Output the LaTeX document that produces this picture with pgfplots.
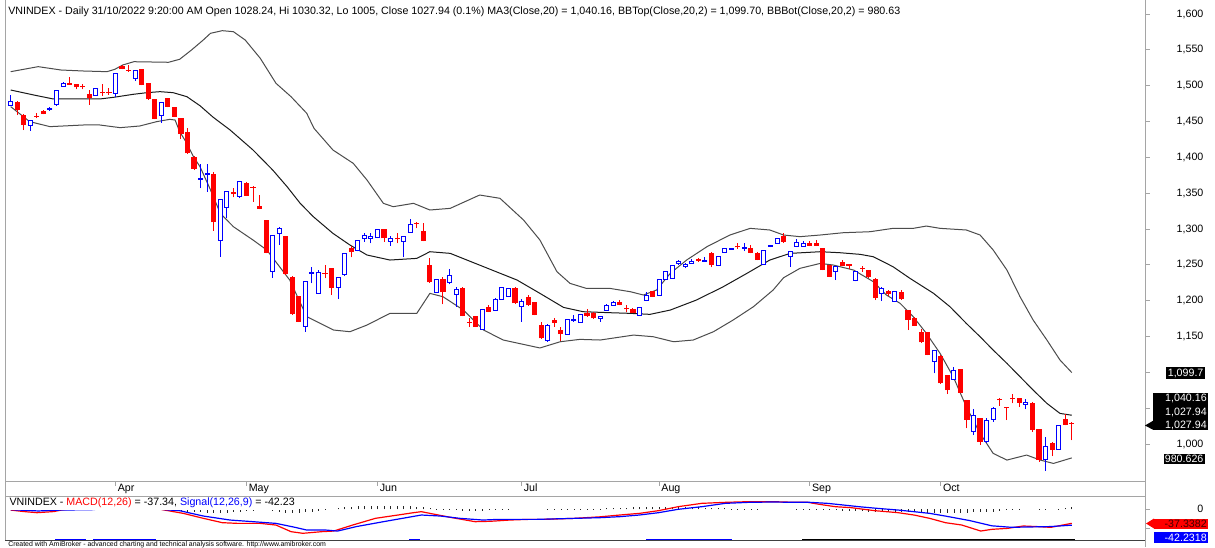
\documentclass[border=0pt]{standalone}
\usepackage{pgfplots}
\pgfplotsset{compat=1.18}
\usepackage{pgfplotstable}
\usepackage{fontspec}
\setmainfont{Liberation Sans}
\definecolor{framegray}{RGB}{165,165,165}
\definecolor{abred}{RGB}{255,0,0}
\definecolor{abblue}{RGB}{0,0,255}

\pgfplotstableread{
i o h l c
1 1477.7 1478.5 1459.0 1466.0
2 1459.0 1460.0 1438.1 1445.1
4 1458.1 1461.4 1454.4 1456.7
5 1465.1 1466.0 1460.0 1460.5
9 1504.2 1511.6 1501.0 1501.4
10 1502.3 1502.8 1494.9 1497.7
11 1499.5 1501.8 1494.9 1497.7
12 1488.4 1493.9 1473.0 1482.3
14 1491.6 1501.8 1485.6 1489.3
15 1491.6 1496.3 1487.0 1489.3
17 1527.9 1528.8 1522.7 1523.2
18 1521.8 1528.8 1519.5 1520.5
20 1523.2 1523.7 1500.5 1500.9
21 1503.2 1503.7 1480.5 1480.9
22 1481.4 1481.9 1453.0 1453.5
24 1482.3 1482.8 1469.8 1470.7
25 1469.8 1470.3 1456.2 1456.7
26 1454.4 1454.9 1425.1 1432.5
27 1435.8 1440.5 1405.1 1405.6
28 1400.9 1401.4 1382.3 1383.7
31 1376.7 1380.0 1297.7 1309.3
34 1351.6 1356.7 1344.2 1348.8
36 1364.6 1365.1 1346.0 1346.5
37 1359.1 1359.6 1338.1 1357.7
38 1332.5 1347.4 1327.4 1327.9
39 1312.5 1313.0 1266.0 1267.0
42 1290.2 1290.7 1236.0 1237.2
43 1233.5 1234.0 1180.4 1180.9
44 1206.5 1207.0 1170.2 1170.7
48 1239.0 1249.7 1231.2 1237.6
49 1245.1 1245.6 1207.9 1218.1
52 1273.9 1276.3 1260.4 1267.9
57 1299.5 1300.0 1282.3 1287.0
59 1287.0 1293.9 1280.0 1285.6
62 1308.8 1310.2 1300.9 1307.0
63 1297.2 1307.9 1282.7 1283.2
64 1249.7 1259.1 1225.1 1225.6
66 1230.2 1233.4 1194.8 1211.6
69 1217.1 1219.5 1178.0 1178.5
70 1170.6 1175.3 1163.7 1169.0
71 1178.5 1179.0 1163.2 1163.7
73 1190.6 1193.9 1184.1 1184.6
77 1218.0 1218.5 1195.7 1196.2
79 1205.5 1207.9 1193.0 1193.4
80 1197.6 1198.1 1179.5 1180.0
81 1166.0 1170.6 1146.9 1147.4
83 1173.0 1176.2 1163.7 1169.2
84 1159.0 1163.7 1143.7 1153.4
88 1182.3 1187.8 1177.6 1178.5
89 1183.2 1183.7 1174.8 1175.3
93 1198.1 1200.9 1193.4 1193.9
94 1190.2 1193.4 1183.7 1187.8
95 1187.8 1190.0 1182.7 1183.2
98 1213.4 1213.9 1205.0 1205.5
105 1257.6 1259.9 1254.4 1255.7
107 1266.9 1267.4 1246.4 1249.7
111 1276.2 1280.0 1272.0 1274.4
113 1273.0 1277.6 1266.0 1266.9
114 1266.9 1267.4 1256.2 1256.7
118 1290.2 1293.9 1280.9 1282.3
122 1279.9 1283.2 1275.7 1276.2
123 1279.9 1284.6 1276.2 1276.7
124 1273.0 1273.5 1242.2 1242.7
125 1249.7 1250.2 1232.9 1233.4
127 1254.4 1256.7 1248.3 1248.8
128 1250.6 1251.1 1243.7 1248.8
130 1246.0 1248.8 1240.4 1244.1
131 1242.7 1243.2 1232.0 1232.5
132 1229.7 1231.1 1200.9 1203.2
134 1213.4 1214.8 1206.5 1209.2
136 1212.5 1214.8 1200.9 1201.8
137 1186.9 1187.4 1159.0 1173.0
138 1176.2 1177.6 1164.6 1165.1
139 1156.7 1160.0 1141.3 1141.8
140 1155.8 1156.3 1123.6 1124.1
142 1123.2 1123.7 1084.1 1084.6
143 1096.2 1096.7 1069.7 1075.3
145 1104.6 1105.1 1071.1 1071.6
146 1061.4 1061.9 1021.8 1033.4
148 1035.8 1036.3 998.6 1003.2
151 1062.3 1064.6 1053.4 1060.9
152 1051.1 1051.6 1033.4 1049.7
153 1063.7 1069.3 1056.7 1062.3
154 1063.7 1064.2 1052.0 1057.6
156 1057.6 1058.1 1017.0 1019.5
157 1020.9 1021.4 975.3 977.6
159 1000.9 1002.3 983.2 991.6
161 1034.8 1041.8 1026.0 1026.5
162 1028.24 1030.32 1005.0 1027.94
}\redcandles

\pgfplotstableread{
i o h l c
0 1472.1 1487.0 1471.5 1477.7
3 1443.7 1451.8 1437.2 1451.1
6 1467.0 1470.7 1465.1 1468.4
7 1473.0 1494.5 1472.1 1493.9
8 1499.5 1505.6 1499.0 1503.2
13 1486.0 1496.8 1485.6 1496.3
16 1488.4 1516.8 1483.7 1516.3
19 1509.3 1522.3 1507.0 1521.8
23 1457.7 1476.8 1448.4 1476.3
29 1369.3 1390.2 1356.7 1370.7
30 1376.3 1390.2 1352.1 1377.7
32 1284.6 1341.0 1261.4 1340.5
33 1330.2 1353.0 1314.9 1352.1
35 1345.1 1367.4 1342.8 1366.0
40 1240.4 1292.1 1232.1 1291.6
41 1293.9 1303.2 1277.7 1300.0
45 1163.7 1227.0 1156.7 1226.5
46 1238.1 1247.4 1224.2 1239.5
47 1210.2 1242.8 1209.7 1239.5
50 1218.1 1233.5 1202.3 1232.1
51 1236.7 1267.0 1234.4 1266.0
53 1269.3 1285.1 1268.8 1284.6
54 1287.0 1293.9 1282.3 1291.6
55 1287.0 1294.9 1280.0 1290.2
56 1287.9 1299.5 1287.4 1298.6
58 1283.2 1290.2 1276.3 1287.0
60 1283.2 1290.2 1260.4 1289.3
61 1295.3 1313.5 1294.8 1306.5
65 1211.6 1230.7 1211.1 1230.2
67 1225.5 1243.7 1222.7 1234.8
68 1208.8 1218.5 1191.6 1215.7
72 1160.4 1188.3 1159.0 1187.8
74 1186.9 1203.2 1186.4 1201.8
75 1201.8 1219.5 1201.3 1218.0
76 1205.5 1217.6 1205.0 1217.1
78 1191.6 1201.8 1170.6 1198.5
82 1145.1 1167.4 1142.7 1166.0
85 1153.0 1174.4 1152.5 1173.9
86 1172.9 1180.0 1170.6 1174.4
87 1169.7 1181.8 1169.2 1181.3
90 1175.3 1178.5 1170.6 1177.6
91 1186.9 1195.3 1186.4 1193.9
92 1193.4 1199.5 1192.9 1198.1
96 1179.0 1191.1 1178.5 1190.6
97 1199.9 1211.6 1199.4 1207.9
99 1207.9 1230.2 1207.4 1229.7
100 1229.7 1240.9 1229.2 1240.4
101 1231.1 1249.3 1230.6 1248.8
102 1252.0 1256.7 1249.7 1254.4
103 1248.3 1252.0 1245.1 1251.1
104 1252.0 1258.0 1251.5 1255.3
106 1254.8 1260.4 1254.4 1256.2
108 1248.8 1261.8 1248.3 1261.3
109 1267.4 1273.5 1266.9 1273.0
110 1272.0 1273.9 1271.5 1273.4
112 1272.5 1280.9 1269.2 1273.9
115 1251.1 1270.2 1250.6 1269.7
116 1275.3 1276.7 1274.8 1276.7
117 1279.9 1287.4 1279.4 1286.9
119 1262.3 1269.2 1247.4 1268.3
120 1275.3 1285.5 1274.8 1280.9
121 1276.2 1283.2 1275.7 1279.9
126 1240.4 1248.3 1228.8 1247.4
129 1227.9 1240.9 1227.0 1240.4
133 1210.2 1218.5 1200.0 1217.1
135 1198.5 1213.0 1198.0 1212.5
141 1114.8 1131.6 1098.5 1131.1
144 1090.2 1107.9 1089.7 1103.2
147 1017.2 1048.3 1012.5 1040.4
149 1003.2 1035.8 1001.8 1033.4
150 1034.4 1052.0 1031.1 1049.7
155 1055.3 1062.3 1048.3 1057.6
158 978.6 1009.3 962.7 996.2
160 992.5 1027.0 992.0 1026.5
}\bluecandles

\begin{document}
\fontsize{8}{9.6}\selectfont
\begin{tikzpicture}
\useasboundingbox (0,0) rectangle (911.25pt,410.25pt);
\fill[white] (0,0) rectangle (911.25pt,410.25pt);

\begin{axis}[
  at={(3.75pt,49.5pt)}, anchor=south west,
  width=855pt, height=360.75pt, scale only axis,
  xmin=-0.87, xmax=173.18, ymin=948.4, ymax=1619.5,
  axis line style={draw=none},
  clip=false,
  ytick={1000,1050,...,1600},
  yticklabels={{1,000},{},{},{1,150},{1,200},{1,250},{1,300},{1,350},{1,400},{1,450},{1,500},{1,550},{1,600}},
  ytick pos=upper, yticklabel pos=upper,
  xtick={16,36,56,78,99,122,142},
  xticklabels={Apr,May,Jun,Jul,Aug,Sep,Oct},
  xtick pos=lower, xticklabel pos=lower,
  tick align=outside,
  major tick length=3.5pt,
  tick style={framegray, line width=0.6pt},
  every tick label/.append style={font=\fontsize{8}{9.6}\selectfont},
  yticklabel style={anchor=east, inner sep=0pt, xshift=40.5pt},
  xticklabel style={anchor=base west, inner sep=0pt, xshift=1.5pt, yshift=-4.5pt},
]
% Bollinger bands
\addplot[black!70, line width=0.75pt] coordinates {(0,1519.5) (4.2,1526.5) (7.7,1521.8) (11.2,1520.4) (14.7,1519.5) (15.9,1522.8) (17.1,1528.8) (18.8,1533.4) (24.1,1532.6) (25.8,1536.8) (27.6,1549.7) (29.4,1563.7) (30.5,1573) (32.3,1576.7) (34,1575.3) (35.8,1563.7) (38.1,1538.2) (40.5,1503.3) (42.8,1484.6) (45.2,1461.4) (46.3,1440.5) (49.2,1410.2) (52.3,1391.6) (54.4,1368.3) (56.9,1335.8) (58.4,1331.1) (61.5,1335.8) (64,1326.5) (67.1,1328.8) (71.6,1347.4) (74.7,1342.8) (78.3,1312.5) (80.8,1284.6) (83.4,1240.4) (85.4,1224.1) (87.9,1217.1) (91.5,1217.1) (94.6,1212.5) (96.6,1207.9) (98.6,1214.8) (100.7,1238.1) (103.2,1256.7) (106.3,1275.3) (109.8,1291.6) (112.9,1300.9) (115.9,1298.6) (118,1291.6) (120.5,1289.3) (123.6,1291.6) (127.1,1294.8) (131.2,1296.2) (134.7,1300.9) (137.8,1300.9) (139.8,1304.1) (141.9,1300.9) (145.9,1298.6) (148,1291.6) (150,1270.7) (152.1,1242.7) (154.1,1205.5) (156.1,1173) (158.2,1145.1) (160.2,1117.2) (162,1099.7)};
\addplot[black!90, line width=0.75pt] coordinates {(0,1493.9) (3.5,1487) (6.5,1481.4) (11.1,1481.4) (13.6,1481.4) (15.7,1483.7) (18.7,1487.9) (20.8,1490.2) (22.8,1491.6) (24.8,1490.2) (26.9,1484.6) (28.9,1472) (30.9,1456) (33.5,1438.1) (37,1410.2) (40,1382.3) (42.2,1359) (44.2,1335.8) (46.2,1317.2) (49.2,1293.9) (51.8,1277.6) (54.4,1263.7) (57.9,1256.7) (62,1259) (64,1268.3) (67.1,1266) (72.2,1247.4) (77.3,1228.8) (80.8,1210.2) (84.4,1190.6) (87.4,1184.6) (91.5,1183.2) (94.6,1182.3) (97.6,1180.9) (100.7,1186.9) (104.7,1200.9) (108.8,1219.5) (112.4,1238.1) (115.9,1256.7) (119,1266) (123.6,1268.3) (126.6,1266.9) (129.7,1264.6) (131.7,1261.3) (134.7,1247.4) (137.3,1231.1) (140.9,1210.2) (143.4,1191.6) (145.9,1168.3) (148,1149.7) (150,1131.1) (152.1,1112.5) (154.1,1093.9) (156.1,1075.3) (158.2,1056.7) (160.2,1042.7) (162,1040.16)};
\addplot[black!70, line width=0.75pt] coordinates {(0,1470.7) (2.9,1449.8) (6,1442.8) (11.1,1445.1) (13.6,1445.1) (16.7,1441.4) (19.7,1443.7) (22.3,1449.8) (24.3,1453) (25.1,1452) (25.8,1435.8) (26.9,1419.5) (27.9,1400.9) (28.9,1387) (30.4,1356.7) (32,1321.9) (34,1303.2) (37,1284.6) (39.1,1270.7) (42.6,1228.8) (45.2,1177.7) (49.3,1159) (51.8,1156.7) (54.4,1166) (57.9,1182.3) (62,1182.3) (64,1210.2) (66,1205.5) (69.1,1187) (72.2,1159) (75.2,1145.1) (80.8,1134) (83.9,1142.7) (86.9,1146) (90,1145.1) (95.1,1152) (98.1,1149.7) (101.2,1142.7) (104.2,1145.1) (107.3,1156.7) (110.3,1173) (113.4,1191.6) (116.4,1214.8) (118,1232) (120.5,1245.1) (123.6,1252) (125.6,1249.7) (128.7,1242.7) (131.7,1226.5) (133.7,1207.9) (135.8,1196.2) (137.8,1177.6) (139.8,1154.4) (141.9,1126.4) (143.9,1093.9) (145.9,1052) (148,1014.8) (150,986.9) (152.1,977.6) (155.1,984.6) (157.2,977.6) (159.2,972.9) (162,980.63)};

% red candles: wicks and filled bodies
\addplot[draw=none, mark=none, error bars/.cd, y dir=plus, y explicit, error mark=none,
  error bar style={draw=abred, line width=0.75pt}]
  table[x=i, y=l, y error plus expr=\thisrow{h}-\thisrow{l}] {\redcandles};
\addplot[draw=none, mark=none, error bars/.cd, y dir=plus, y explicit, error mark=none,
  error bar style={draw=abred, line width=3.9pt}]
  table[x=i, y=c, y error plus expr={max(\thisrow{o}-\thisrow{c},1.4)}] {\redcandles};

% blue candles: wicks, white fill, outline
\addplot[draw=none, mark=none, error bars/.cd, y dir=plus, y explicit, error mark=none,
  error bar style={draw=abblue, line width=0.75pt}]
  table[x=i, y=l, y error plus expr=\thisrow{h}-\thisrow{l}] {\bluecandles};
\addplot[draw=none, mark=none, error bars/.cd, y dir=plus, y explicit, error mark=none,
  error bar style={draw=white, line width=3pt}]
  table[x=i, y=o, y error plus expr={max(\thisrow{c}-\thisrow{o},1.4)}] {\bluecandles};
\addplot[draw=none, mark=none, xshift=-1.5pt, error bars/.cd, y dir=plus, y explicit, error mark=none,
  error bar style={draw=abblue, line width=0.75pt}]
  table[x=i, y=o, y error plus expr={max(\thisrow{c}-\thisrow{o},1.4)}] {\bluecandles};
\addplot[draw=none, mark=none, xshift=1.5pt, error bars/.cd, y dir=plus, y explicit, error mark=none,
  error bar style={draw=abblue, line width=0.75pt}]
  table[x=i, y=o, y error plus expr={max(\thisrow{c}-\thisrow{o},1.4)}] {\bluecandles};
\addplot[only marks, mark=-, mark size=1.875pt, mark options={draw=abblue, line width=0.75pt}]
  table[x=i, y=o] {\bluecandles};
\addplot[only marks, mark=-, mark size=1.875pt, mark options={draw=abblue, line width=0.75pt}]
  table[x=i, y expr={max(\thisrow{c},\thisrow{o}+1.4)}] {\bluecandles};
\end{axis}

\begin{axis}[
  at={(3.75pt,4.5pt)}, anchor=south west,
  width=855pt, height=33.75pt, scale only axis,
  xmin=-0.87, xmax=173.18, ymin=-84.5, ymax=35.5,
  axis line style={draw=none},
  clip=false,
  xtick=\empty,
  ytick={-50,0}, yticklabels={{},0},
  ytick pos=upper, yticklabel pos=upper,
  tick align=outside,
  major tick length=3.5pt,
  tick style={framegray, line width=0.6pt},
  every tick label/.append style={font=\fontsize{8}{9.6}\selectfont},
  yticklabel style={anchor=east, inner sep=0pt, xshift=40.5pt},
]
\addplot[ycomb, black!85, line width=0.5pt, mark=none] coordinates {
(0,-1) (1,-2) (2,-2) (3,-3) (4,-2) (5,-1) (6,-1) (7,0)
(8,2) (9,3) (10,4) (11,5) (12,5) (13,6) (14,6) (15,7) (16,7) (17,6) (18,5) (19,4) (20,3) (21,2) (22,1) (23,0)
(24,-1) (25,-3) (26,-5) (27,-6) (28,-7) (29,-8)
(30,-9) (31,-10) (32,-10) (33,-9) (34,-8) (35,-6) (36,-5)
(37,-4) (38,-3) (39,-3) (40,-5)
(41,-8) (42,-10) (43,-11) (44,-10) (45,-8) (46,-6)
(47,-4) (48,-2) (49,0)
(50,3) (51,5) (52,7) (53,8) (54,9) (55,10) (56,10) (57,10) (58,9) (59,9) (60,8) (61,8) (62,7) (63,6)
(64,3) (65,1) (66,-1) (67,-2) (68,-3) (69,-4) (70,-4)
(71,-4) (72,-4) (73,-3) (74,-2) (75,-1) (76,-1) (77,0) (78,0) (79,0) (80,0) (81,0) (82,1) (83,1) (84,1) (85,1) (86,1) (87,1) (88,2) (89,2) (90,2)
(91,3) (92,3) (93,4) (94,4) (95,5) (96,5) (97,6) (98,6) (99,6) (100,7) (101,7) (102,7) (103,6) (104,6) (105,5) (106,4) (107,4) (108,3) (109,3) (110,2) (111,2) (112,1)
(113,1) (114,1) (115,0) (116,0) (117,0) (118,0) (119,0) (120,-1) (121,-1) (122,-1) (123,-2) (124,-2)
(125,-3) (126,-3) (127,-4) (128,-4) (129,-5) (130,-5) (131,-6) (132,-6) (133,-7) (134,-7) (135,-7) (136,-8) (137,-8) (138,-8) (139,-9) (140,-9) (141,-10) (142,-10) (143,-10) (144,-10) (145,-9) (146,-9) (147,-8) (148,-8) (149,-7) (150,-6)
(151,-4) (152,-3) (153,-2) (154,-1) (155,0) (156,0) (157,-1) (158,-1) (159,0) (160,2) (161,3) (162,5)};
\addplot[abred, line width=0.9pt] coordinates {(0,-2) (2,-6) (4,-9) (6.6,-6) (7.7,-2) (10,3) (13,8) (16,11) (18,11) (20,8) (22,3) (23.5,-2) (26.4,-11) (29.4,-24) (32.3,-35.6) (34.6,-37.5) (38.1,-37.5) (40.5,-42) (42.8,-59.6) (44.6,-64) (47.5,-59.6) (49.3,-58) (52.2,-42) (55.7,-24) (59.2,-15) (61.5,-9) (62.7,-6.3) (64.5,-12.5) (67.4,-22.3) (70.9,-33) (73.2,-32) (76.2,-28.6) (79.1,-26.8) (81.4,-26.8) (86.1,-24.1) (90,-20) (93,-15.2) (96,-10.8) (98.9,-3.6) (101.9,7) (105.5,15.9) (109.1,18.6) (112.7,20.4) (116.3,20.4) (119.9,18.6) (121.7,18.6) (123.5,13.2) (125.9,7) (128.3,4.4) (131.9,-3.6) (135.5,-9) (137.9,-15.2) (140.3,-24.1) (142.7,-35.6) (145.2,-41.9) (148.1,-57.9) (149.8,-53.4) (152.2,-50.8) (154.6,-44.5) (157,-46.3) (158.8,-48.1) (162,-37.34)};
\addplot[abblue, line width=0.9pt] coordinates {(0,-1) (4.2,-4.4) (7.7,-2) (12.4,-1) (15,3) (18,6) (21,5) (23.5,-1) (25.8,-3.7) (29.4,-17.9) (33.5,-28.6) (37,-33) (40.5,-37.5) (43.4,-48) (45.2,-55.3) (48.1,-55.3) (49.9,-58) (52.8,-46) (56.9,-33) (59.8,-24.1) (62.7,-15.2) (65.6,-17.9) (68.6,-24.1) (72.1,-28.6) (74.5,-26.8) (80.3,-26.8) (86.1,-24.1) (90,-22.3) (93,-19.6) (96,-15.2) (98.9,-9) (101.9,0) (105.5,7) (109.1,15.9) (112.7,18.6) (116.3,19.5) (119.9,18.6) (122,18.6) (124.7,15.9) (127.1,11.5) (129.5,7) (132,3) (135.5,-2) (137.9,-6.3) (140.3,-10.8) (142.7,-18) (146.4,-30) (149.8,-44) (152.8,-48) (155.8,-47) (158.8,-46) (162,-42.23)};
\end{axis}

\begin{scope}[yshift=410.25pt, x=0.75pt, y=-0.75pt]
% frames
\draw[framegray, line width=0.75pt] (5,0) -- (5,541);
\draw[framegray, line width=0.75pt] (1145,0) -- (1145,547);
\draw[framegray, line width=0.75pt] (5,481) -- (1145,481);
\draw[framegray, line width=0.75pt] (5,496) -- (1145,496);
\draw[black!75, line width=0.75pt] (5,540) -- (1145,540);
\draw[abblue, line width=1pt] (55,539.8) -- (86,539.8) (93,539.8) -- (156,539.8) (409,539.8) -- (420,539.8) (646,539.8) -- (732,539.8);
\draw[black, line width=1pt] (802,539.8) -- (1075,539.8);
% titles
\node[anchor=base west, inner sep=0pt] at (8,15) {VNINDEX - Daily 31/10/2022 9:20:00 AM Open 1028.24, Hi 1030.32, Lo 1005, Close 1027.94 (0.1\%) MA3(Close,20) = 1,040.16, BBTop(Close,20,2) = 1,099.70, BBBot(Close,20,2) = 980.63};
\node[anchor=base west, inner sep=1pt, fill=white] at (8,506) {VNINDEX - \textcolor{abred}{MACD(12,26)} = -37.34, \textcolor{abblue}{Signal(12,26,9)} = -42.23};
\node[anchor=base west, inner sep=0pt, font=\fontsize{5.2}{6}\selectfont] at (8,546.3) {Created with AmiBroker - advanced charting and technical analysis software. http://www.amibroker.com};
% value boxes
\node[fill=black, text=white, anchor=east, inner sep=1pt] at (1205,373) {1,099.7};
\fill[black] (1153,393) rectangle (1208,430);
\node[text=white, anchor=east, inner sep=0pt] at (1207,398) {1,040.16};
\node[text=white, anchor=east, inner sep=0pt] at (1207,412) {1,027.94};
\node[text=white, anchor=east, inner sep=0pt] at (1207,425.5) {1,027.94};
\fill[black] (1145,425.5) -- (1153.5,420.5) -- (1153.5,430) -- cycle;
\node[fill=black, text=white, anchor=east, inner sep=1pt] at (1205,459) {980.626};
\fill[abred] (1146,523.5) -- (1154,518.5) -- (1154,528.5) -- cycle;
\fill[abred] (1153.5,518.5) rectangle (1208,528.5);
\node[text=black!75!red, anchor=east, inner sep=0pt] at (1207,523.5) {-37.3382};
\fill[abblue] (1153.5,532) rectangle (1208,543);
\node[text=white, anchor=east, inner sep=0pt] at (1207,537.5) {-42.2318};
\end{scope}
\end{tikzpicture}
\end{document}
